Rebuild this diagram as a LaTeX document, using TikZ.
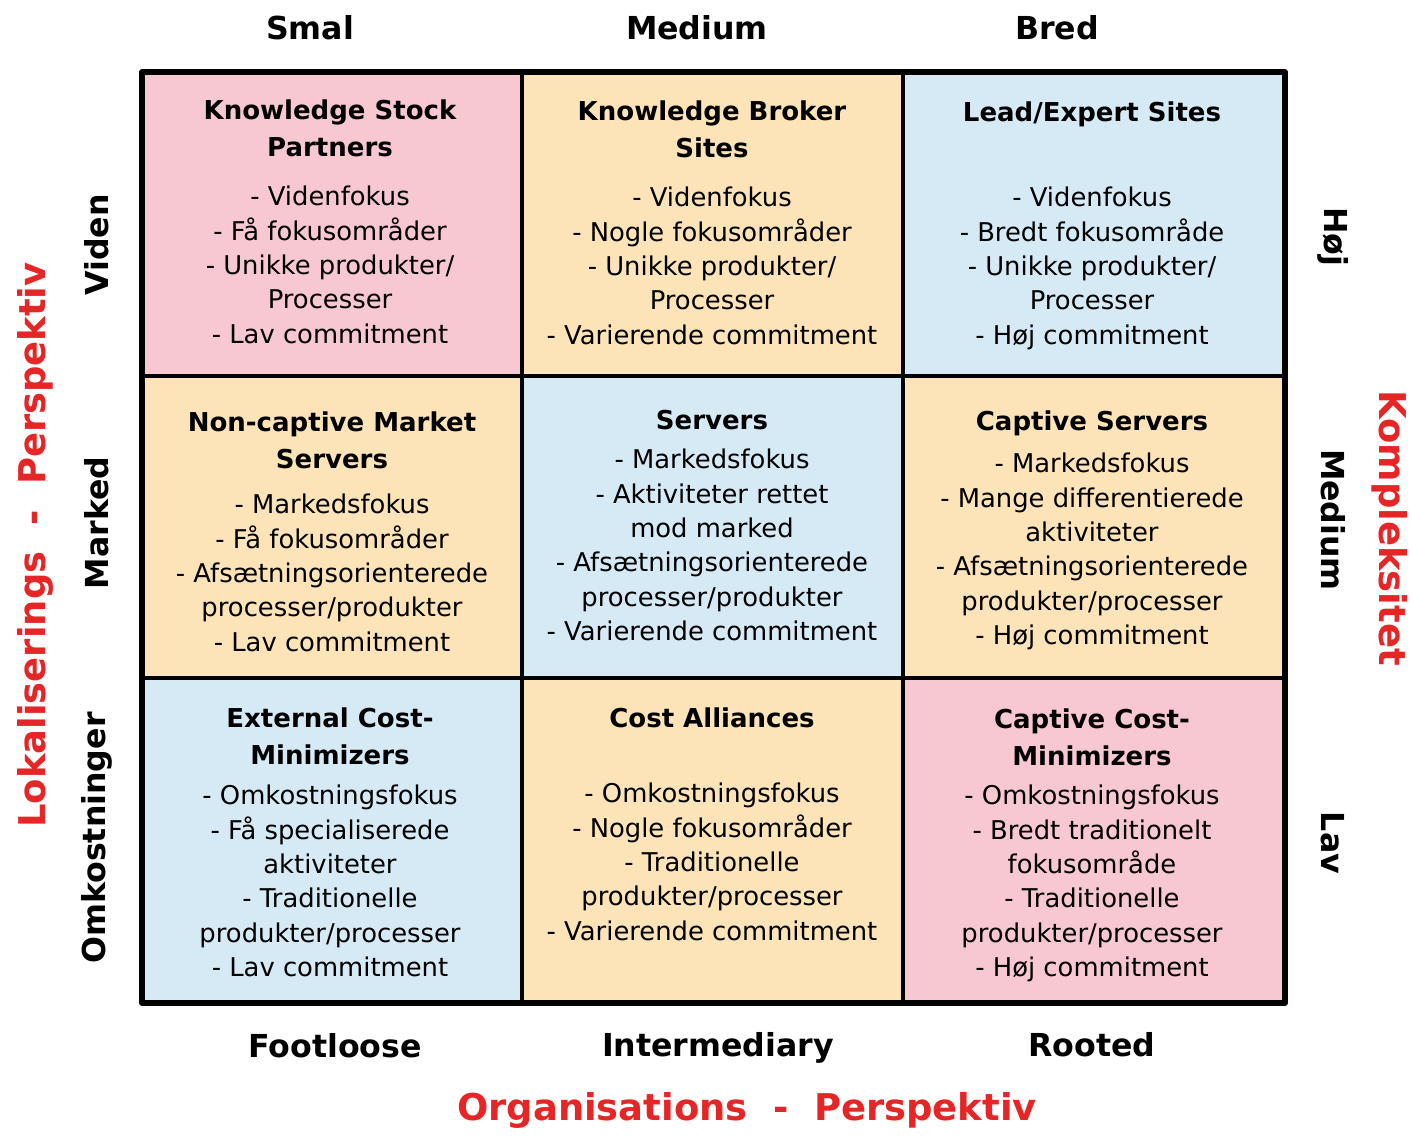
\documentclass[tikz,border=0pt]{standalone}
\usepackage{fontspec}
\setmainfont{DejaVu Sans}
\usepackage{xcolor}
\definecolor{cellpink}{RGB}{247,200,210}
\definecolor{cellyellow}{RGB}{252,228,184}
\definecolor{cellblue}{RGB}{214,234,246}
\definecolor{axisred}{RGB}{230,38,38}

\begin{document}
\begin{tikzpicture}[x=0.02cm, y=-0.02cm,
    celltitle/.style={anchor=north, inner sep=0pt, align=center, font=\bfseries\fontsize{14.8}{21}\selectfont},
    cellbody/.style={anchor=north, inner sep=0pt, align=center, font=\fontsize{14.7}{19.5}\selectfont},
    axislabel/.style={inner sep=0pt, font=\bfseries\fontsize{18}{22}\selectfont},
    axistitle/.style={inner sep=0pt, text=axisred, font=\bfseries\fontsize{21}{25}\selectfont}]
  \useasboundingbox (0,0) rectangle (1412,1136);

  % cell backgrounds
  \fill[cellpink]   (142,72)  rectangle (522,376);
  \fill[cellyellow] (522,72)  rectangle (903,376);
  \fill[cellblue]   (903,72)  rectangle (1285,376);
  \fill[cellyellow] (142,376) rectangle (522,678);
  \fill[cellblue]   (522,376) rectangle (903,678);
  \fill[cellyellow] (903,376) rectangle (1285,678);
  \fill[cellblue]   (142,678) rectangle (522,1003);
  \fill[cellyellow] (522,678) rectangle (903,1003);
  \fill[cellpink]   (903,678) rectangle (1285,1003);

  % grid
  \draw[line width=2.4pt] (522,72) -- (522,1003) (903,72) -- (903,1003)
    (142,376) -- (1285,376) (142,678) -- (1285,678);
  \draw[line width=3pt, line join=round] (142,72) rectangle (1285,1003);

  % row 1
  \node[celltitle] (ksp)  at (330,99)  {Knowledge Stock\\Partners};
  \node[cellbody]  (kspb) at (330,186) {- Videnfokus\\- Få fokusområder\\- Unikke produkter/\\Processer\\- Lav commitment};
  \node[celltitle] (kbs)  at (712,100) {Knowledge Broker\\Sites};
  \node[cellbody]  (kbsb) at (712,187) {- Videnfokus\\- Nogle fokusområder\\- Unikke produkter/\\Processer\\- Varierende commitment};
  \node[celltitle] (les)  at (1092,101) {Lead/Expert Sites};
  \node[cellbody]  (lesb) at (1092,187) {- Videnfokus\\- Bredt fokusområde\\- Unikke produkter/\\Processer\\- Høj commitment};

  % row 2
  \node[celltitle] (ncm)  at (332,411) {Non-captive Market\\Servers};
  \node[cellbody]  (ncmb) at (332,494) {- Markedsfokus\\- Få fokusområder\\- Afsætningsorienterede\\processer/produkter\\- Lav commitment};
  \node[celltitle] (srv)  at (712,410) {Servers};
  \node[cellbody]  (srvb) at (712,449) {- Markedsfokus\\- Aktiviteter rettet\\mod marked\\- Afsætningsorienterede\\processer/produkter\\- Varierende commitment};
  \node[celltitle] (csv)  at (1092,410) {Captive Servers};
  \node[cellbody]  (csvb) at (1092,453) {- Markedsfokus\\- Mange differentierede\\aktiviteter\\- Afsætningsorienterede\\produkter/processer\\- Høj commitment};

  % row 3
  \node[celltitle] (ecm)  at (330,707) {External Cost-\\Minimizers};
  \node[cellbody]  (ecmb) at (330,785) {- Omkostningsfokus\\- Få specialiserede\\aktiviteter\\- Traditionelle\\produkter/processer\\- Lav commitment};
  \node[celltitle] (cal)  at (712,707) {Cost Alliances};
  \node[cellbody]  (calb) at (712,783) {- Omkostningsfokus\\- Nogle fokusområder\\- Traditionelle\\produkter/processer\\- Varierende commitment};
  \node[celltitle] (ccm)  at (1092,708) {Captive Cost-\\Minimizers};
  \node[cellbody]  (ccmb) at (1092,785) {- Omkostningsfokus\\- Bredt traditionelt\\fokusområde\\- Traditionelle\\produkter/processer\\- Høj commitment};

  % column and row headings
  \node[axislabel] (smal)   at (310,28)  {Smal};
  \node[axislabel] (medtop) at (697,28)  {Medium};
  \node[axislabel] (bred)   at (1057,28) {Bred};
  \node[axislabel] (foot)   at (335,1046) {Footloose};
  \node[axislabel] (inter)  at (718,1048) {Intermediary};
  \node[axislabel] (root)   at (1092,1045) {Rooted};
  \node[axislabel, rotate=90] (viden) at (97,245) {Viden};
  \node[axislabel, rotate=90] (mark)  at (97,523) {Marked};
  \node[axislabel, rotate=90] (omk)   at (97,838) {Omkostninger};
  \node[axislabel, rotate=-90] (hoj)  at (1333,237) {Høj};
  \node[axislabel, rotate=-90] (medr) at (1333,520) {Medium};
  \node[axislabel, rotate=-90] (lav)  at (1333,843) {Lav};

  % axis titles
  \node[axistitle] (org) at (747,1110) {Organisations \ - \ Perspektiv};
  \node[axistitle, rotate=90] (lok) at (35,545) {Lokaliserings \ - \ Perspektiv};
  \node[axistitle, rotate=-90] (komp) at (1390,528) {Kompleksitet};
\end{tikzpicture}
\end{document}
